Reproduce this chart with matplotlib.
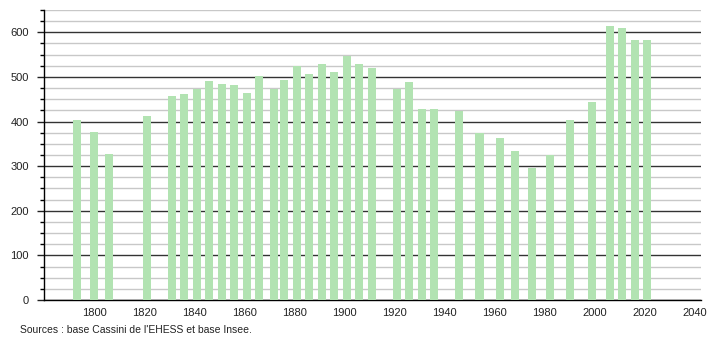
import matplotlib
matplotlib.use("Agg")
import matplotlib.pyplot as plt
from matplotlib.ticker import MultipleLocator

plt.rcParams['font.family'] = ['Liberation Sans', 'DejaVu Sans']

# Population by census year
years = [1793, 1800, 1806, 1821, 1831, 1836, 1841, 1846, 1851, 1856, 1861, 1866,
         1872, 1876, 1881, 1886, 1891, 1896, 1901, 1906, 1911, 1921, 1926, 1931,
         1936, 1946, 1954, 1962, 1968, 1975, 1982, 1990, 1999, 2006, 2011, 2016, 2021]
population = [404, 376, 328, 413, 458, 462, 473, 490, 485, 483, 465, 503,
              472, 492, 525, 506, 530, 512, 546, 530, 521, 473, 488, 427,
              429, 423, 374, 362, 333, 295, 326, 403, 443, 614, 609, 582, 582]
xticks = [1800, 1820, 1840, 1860, 1880, 1900, 1920, 1940, 1960, 1980, 2000, 2020, 2040]
source = "Sources : base Cassini de l'EHESS et base Insee."

fig = plt.figure(figsize=(7.1, 3.4), dpi=100)
ax = fig.add_axes([44 / 710, 40 / 340, 657 / 710, 290 / 340])

ax.bar(years, population, width=3.2, color='#b2e3b2', zorder=3)

ax.set_xlim(1780, 2042.5)
ax.set_ylim(0, 650)
ax.set_xticks(xticks)
ax.yaxis.set_major_locator(MultipleLocator(100))
ax.yaxis.set_minor_locator(MultipleLocator(25))
ax.grid(axis='y', which='major', color='#333333', linewidth=1, zorder=1)
ax.grid(axis='y', which='minor', color='#c8c8c8', linewidth=1, zorder=0)

for s in ['top', 'right']:
    ax.spines[s].set_visible(False)
ax.spines['left'].set_linewidth(1.0)
ax.spines['bottom'].set_linewidth(1.0)
ax.tick_params(axis='x', length=0, labelsize=8, pad=6, colors='#222222')
ax.tick_params(axis='y', which='major', length=5, width=1, labelsize=8, pad=6, colors='#222222')
ax.tick_params(axis='y', which='minor', length=3, width=1)

fig.text(20 / 710, 1 - 330 / 340, source, fontsize=7.5, va='center', ha='left', color='#222222')

fig.savefig('out.png', dpi=100)
